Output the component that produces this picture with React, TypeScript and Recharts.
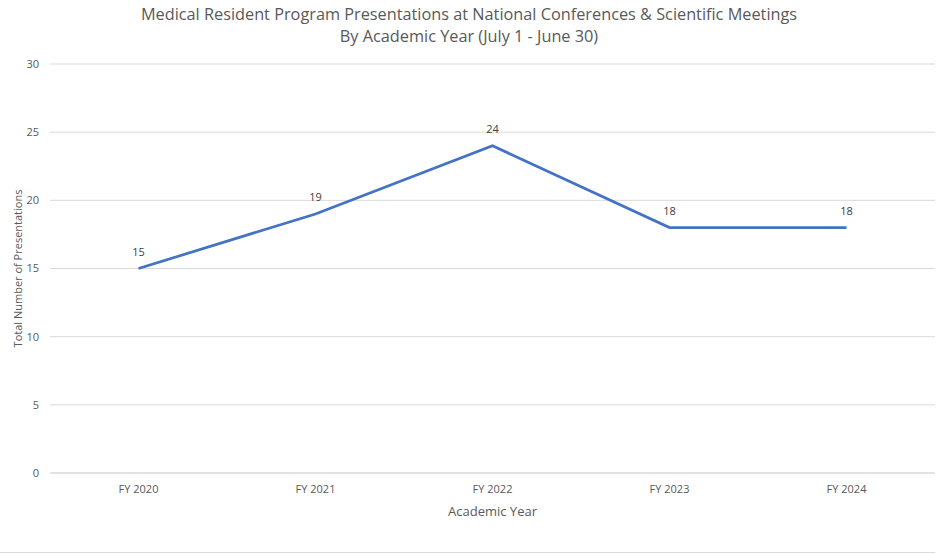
import React from "react";
import {
  LineChart,
  Line,
  XAxis,
  YAxis,
  CartesianGrid,
  LabelList,
} from "recharts";

const years = ["FY 2020", "FY 2021", "FY 2022", "FY 2023", "FY 2024"];
const presentations = [15, 19, 24, 18, 18];
const yTicks = [0, 5, 10, 15, 20, 25, 30];

const data = years.map((year, i) => ({ year, presentations: presentations[i] }));

const FONT = "'Open Sans', 'Noto Sans', sans-serif";

const App: React.FC = () => {
  return (
    <div
      style={{
        position: "absolute",
        left: 0,
        top: 0,
        width: 938,
        height: 554,
        background: "#fff",
        fontFamily: FONT,
      }}
    >
      <div
        style={{
          position: "absolute",
          top: 3,
          left: 0,
          width: 938,
          textAlign: "center",
          color: "#595959",
          fontSize: 16.3,
          lineHeight: "22px",
        }}
      >
        Medical Resident Program Presentations at National Conferences &amp; Scientific Meetings
        <br />
        By Academic Year (July 1 - June 30)
      </div>
      <LineChart
        width={938}
        height={554}
        data={data}
        margin={{ top: 64, right: 3, bottom: 0, left: 0 }}
      >
        <CartesianGrid vertical={false} stroke="#d9d9d9" />
        <XAxis
          dataKey="year"
          height={81}
          padding={{ left: 88.5, right: 88.5 }}
          axisLine={{ stroke: "#d9d9d9" }}
          tickLine={false}
          tick={{ fill: "#595959", stroke: "none", fontSize: 11, fontFamily: FONT }}
          tickMargin={6}
          label={({ viewBox }: any) => (
            <text
              x={viewBox.x + viewBox.width / 2}
              y={511}
              textAnchor="middle"
              dominantBaseline="central"
              fill="#595959"
              fontSize={13}
              fontFamily={FONT}
            >
              Academic Year
            </text>
          )}
        />
        <YAxis
          width={50}
          domain={[0, 30]}
          ticks={yTicks}
          axisLine={false}
          tickLine={false}
          tickMargin={5}
          tick={{ fill: "#595959", stroke: "none", fontSize: 11, fontFamily: FONT }}
          label={({ viewBox }: any) => {
            const cx = 17;
            const cy = viewBox.y + viewBox.height / 2;
            return (
              <text
                x={cx}
                y={cy}
                transform={`rotate(-90 ${cx} ${cy})`}
                textAnchor="middle"
                dominantBaseline="central"
                fill="#595959"
                fontSize={11}
                fontFamily={FONT}
              >
                Total Number of Presentations
              </text>
            );
          }}
        />
        <Line
          type="linear"
          dataKey="presentations"
          stroke="#4472c4"
          strokeWidth={2.75}
          dot={false}
          activeDot={false}
          isAnimationActive={false}
        >
          <LabelList
            dataKey="presentations"
            position="top"
            offset={13}
            fill="#404040"
            fontSize={11}
            fontFamily={FONT}
          />
        </Line>
      </LineChart>
      <div
        style={{
          position: "absolute",
          top: 552,
          left: 0,
          width: 935,
          height: 1,
          background: "#d9d9d9",
        }}
      />
    </div>
  );
};

export default App;
